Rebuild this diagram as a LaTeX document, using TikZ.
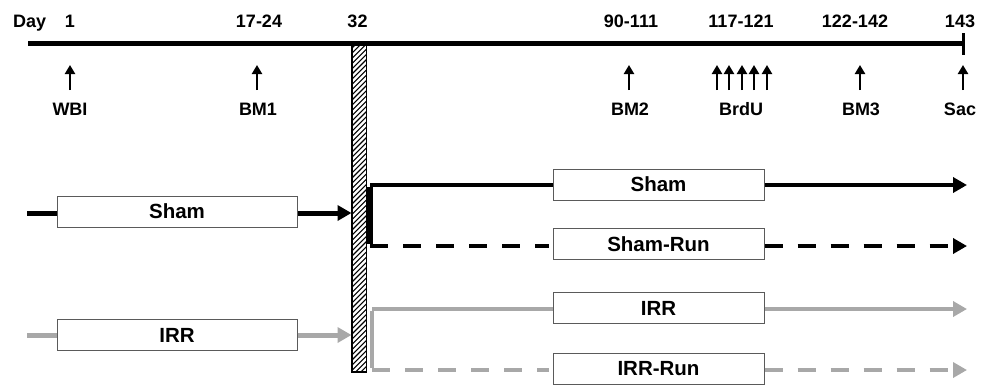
\documentclass[tikz,border=0pt]{standalone}
\usepackage{fontspec}
\setmainfont{Liberation Sans}
\usetikzlibrary{arrows.meta}
\definecolor{lgray}{RGB}{168,168,168}
\definecolor{bordergray}{RGB}{90,90,90}
\begin{document}
\begin{tikzpicture}[x=1pt,y=-1pt,
  lbl/.style={font=\fontsize{18}{18}\selectfont\bfseries, inner sep=0pt, anchor=base},
  box/.style={draw=bordergray, line width=1pt, fill=white, minimum height=31pt, inner sep=0pt, font=\fontsize{20.5}{20.5}\selectfont\bfseries},
  upar/.style={line width=2.8pt, -{Triangle[length=9pt,width=10pt]}},
  thickline/.style={line width=5pt},
  midline/.style={line width=3.6pt},
  bigtip/.style={-{Triangle[length=14pt,width=15pt]}},
  graytip/.style={-{Triangle[length=14pt,width=15pt,lgray]}},
  dsh/.style={dash pattern=on 18pt off 15pt}
]
\useasboundingbox (0,0) rectangle (985,386);

% timeline
\coordinate (t0) at (28,43);
\coordinate (t1) at (963,43);
\coordinate (tk0) at (963,33);
\coordinate (tk1) at (963,55);

% hatched bar
\node[draw=black, line width=1pt, minimum width=14pt, minimum height=326pt, inner sep=0pt, anchor=north] (bar) at (359,45) {};
\begin{scope}
  \clip (bar.south west) rectangle (bar.north east);
  \foreach \k in {0,...,64}{
    \draw[line width=1.1pt] (350,{50+5.2*\k}) -- ++(20,-20);
  }
\end{scope}
\draw[line width=1pt] (bar.south west) rectangle (bar.north east);

\draw[thickline] (t0) -- (t1);
\draw[line width=3pt] (tk0) -- (tk1);

% top labels
\node[lbl, anchor=base west] (day) at (13,27.5) {Day};
\node[lbl] (d1) at (70,27.5) {1};
\node[lbl] (d17) at (259,27.5) {17-24};
\node[lbl] (d32) at (357.5,27.5) {32};
\node[lbl] (d90) at (631,27.5) {90-111};
\node[lbl] (d117) at (741,27.5) {117-121};
\node[lbl] (d122) at (855,27.5) {122-142};
\node[lbl] (d143) at (960,27.5) {143};

% event arrows
\foreach \n/\x in {wbi/70, bm1/257, bm2/629, b1/717, b2/729, b3/742, b4/754, b5/767, bm3/860, sac/963}{
  \coordinate (\n0) at (\x,90);
  \coordinate (\n1) at (\x,65);
  \draw[upar] (\n0) -- (\n1);
}
\node[lbl] (lwbi) at (70,115) {WBI};
\node[lbl] (lbm1) at (258,115) {BM1};
\node[lbl] (lbm2) at (630,115) {BM2};
\node[lbl] (lbrdu) at (741,115) {BrdU};
\node[lbl] (lbm3) at (861,115) {BM3};
\node[lbl] (lsac) at (960,115) {Sac};

% left boxes
\node[box, minimum width=240pt] (shamL) at (177,211.5) {Sham};
\node[box, minimum width=240pt] (irrL) at (177,335) {IRR};
\coordinate (shamS) at (27,213);
\coordinate (irrS) at (27,335);
\draw[thickline] (shamS) -- (shamL.west |- shamS);
\draw[thickline, bigtip] (shamL.east |- shamS) -- (bar.west |- shamS);
\draw[thickline, lgray] (irrS) -- (irrL.west |- irrS);
\draw[thickline, lgray, graytip] (irrL.east |- irrS) -- (bar.west |- irrS);

% right boxes
\node[box, minimum width=211pt] (shamR) at (658.5,184.5) {Sham};
\node[box, minimum width=211pt] (shamRun) at (658.5,244) {Sham-Run};
\node[box, minimum width=211pt] (irrR) at (658.5,308) {IRR};
\node[box, minimum width=211pt] (irrRun) at (658.5,368.5) {IRR-Run};

\coordinate (bs0) at (370,185);
\coordinate (bs1) at (370,246);
\coordinate (gs0) at (372,309);
\coordinate (gs1) at (372,370);
\coordinate (e1) at (967,185);
\coordinate (e2) at (967,246);
\coordinate (e3) at (967,309);
\coordinate (e4) at (967,370);

\draw[midline] (shamR.west |- bs0) -- (bs0);
\draw[line width=5.5pt] ([yshift=-1.8pt]bs0) -- ([yshift=1.8pt]bs1);
\draw[midline, dsh] (bs1) -- ([xshift=-4pt]shamRun.west |- bs1);
\draw[midline, bigtip] (shamR.east |- bs0) -- (e1);
\draw[midline, dsh, bigtip] (shamRun.east |- bs1) -- (e2);

\draw[midline, lgray] (irrR.west |- gs0) -- (gs0);
\draw[line width=4.5pt, lgray] ([yshift=-1.8pt]gs0) -- ([yshift=1.8pt]gs1);
\draw[midline, lgray, dsh] (gs1) -- ([xshift=-4pt]irrRun.west |- gs1);
\draw[midline, lgray, graytip] (irrR.east |- gs0) -- (e3);
\draw[midline, lgray, dsh, graytip] (irrRun.east |- gs1) -- (e4);
\end{tikzpicture}
\end{document}
